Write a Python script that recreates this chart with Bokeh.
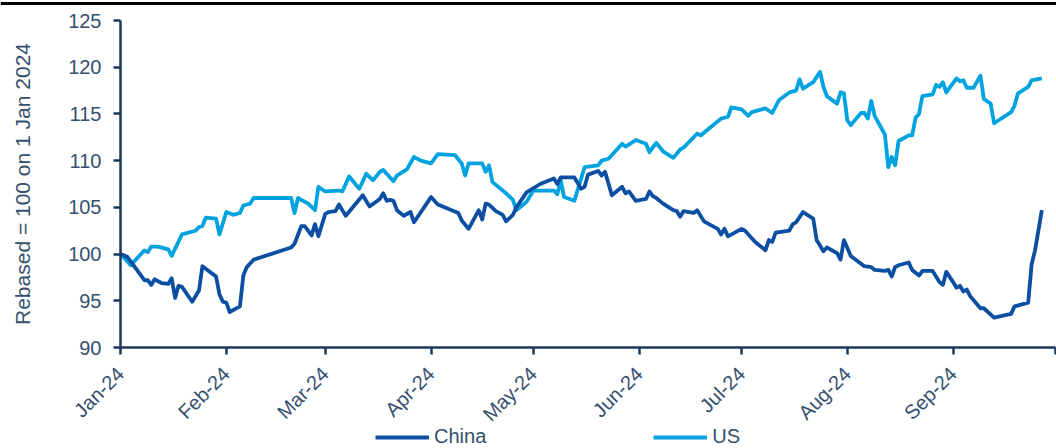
import math
import pandas as pd
from bokeh.plotting import figure
from bokeh.models import (Range1d, FixedTicker, Legend, LegendItem, Label, Span,
                          DatetimeTickFormatter, ColumnDataSource)
from bokeh.embed import file_html
from bokeh.resources import INLINE

# ---------------- data ----------------
base_date = "2024-01-01"

china_days = [0, 2, 4, 7, 8, 9, 10, 12, 14, 15, 16, 17, 18, 21, 23, 24, 28, 29, 30, 31,
              32, 35, 36, 37, 39, 50, 51, 53, 54, 56, 57, 58, 60, 61, 63, 64, 66, 71, 73,
              76, 77, 78, 79, 80, 81, 83, 85, 86, 91, 93, 99, 100, 102, 105, 106, 107,
              108, 110, 112, 113, 115, 116, 119, 123, 127, 128, 129, 133, 135, 136, 137,
              140, 141, 142, 144, 147, 148, 149, 151, 154, 155, 156, 157, 159, 162, 163,
              164, 165, 168, 169, 171, 175, 176, 177, 178, 182, 183, 186, 189, 190, 191,
              192, 196, 197, 198, 200, 203, 204, 206, 207, 210, 211, 212, 214, 218, 220,
              221, 224, 225, 226, 227, 228, 231, 232, 234, 235, 238, 240, 241, 242, 244,
              245, 246, 247, 248, 249, 252, 253, 256, 261, 262, 266, 267, 268, 270]
china_values = [100.0, 99.7, 98.7, 97.2, 97.2, 96.7, 97.3, 96.9, 96.8, 97.4, 95.3, 96.6,
                96.5, 94.9, 96.1, 98.7, 97.6, 95.7, 94.9, 94.8, 93.8, 94.4, 97.7, 98.6,
                99.4, 100.7, 101.1, 103.0, 103.0, 102.0, 103.2, 101.9, 104.3, 104.5,
                104.6, 105.3, 104.1, 106.3, 105.1, 105.9, 106.5, 105.7, 105.8, 105.7,
                104.7, 104.1, 104.5, 103.4, 106.1, 105.3, 104.4, 103.6, 102.7, 104.7,
                103.7, 105.4, 105.3, 104.6, 104.2, 103.5, 104.2, 105.0, 106.6, 107.5,
                108.1, 107.5, 108.2, 108.2, 107.0, 107.2, 108.5, 108.9, 108.4, 108.8,
                106.3, 107.2, 106.5, 106.7, 105.7, 105.9, 106.7, 106.2, 106.0, 105.4,
                104.7, 104.6, 104.0, 104.6, 104.4, 104.7, 103.5, 102.7, 102.1, 102.7,
                101.9, 102.7, 102.5, 101.3, 100.4, 101.5, 101.3, 102.3, 102.5, 103.2,
                103.4, 104.5, 103.8, 101.5, 100.3, 100.7, 100.1, 99.4, 101.5, 99.8,
                98.7, 98.6, 98.3, 98.2, 98.3, 97.6, 98.6, 98.8, 99.1, 98.3, 97.7, 98.2,
                98.2, 97.0, 96.7, 98.1, 97.0, 96.4, 96.6, 96.0, 96.2, 95.5, 94.2, 94.2,
                93.2, 93.6, 94.4, 94.8, 98.9, 100.4, 104.7]

us_days = [0, 3, 7, 8, 9, 11, 14, 15, 18, 22, 23, 24, 25, 28, 29, 31, 33, 35, 36, 38, 39,
           50, 51, 52, 55, 57, 58, 60, 64, 65, 67, 70, 72, 74, 76, 77, 80, 81, 84, 86, 88,
           91, 93, 98, 100, 101, 102, 106, 107, 108, 109, 113, 115, 116, 119, 121, 127,
           128, 129, 130, 133, 136, 140, 141, 143, 147, 148, 151, 154, 155, 157, 159,
           162, 164, 165, 169, 170, 173, 176, 178, 179, 182, 184, 185, 189, 191, 193,
           196, 198, 199, 200, 203, 205, 206, 207, 210, 211, 212, 213, 214, 217, 218,
           219, 220, 221, 224, 225, 226, 227, 228, 231, 232, 233, 234, 235, 238, 239,
           240, 241, 242, 245, 246, 247, 248, 250, 252, 253, 255, 256, 261, 262, 263,
           266, 267, 270]
us_values = [100.0, 98.8, 100.4, 100.2, 100.8, 100.8, 100.5, 99.8, 102.1, 102.5, 102.9,
             103.0, 103.9, 103.8, 102.1, 104.5, 104.2, 104.4, 105.2, 105.4, 106.0, 106.0,
             104.4, 106.0, 105.4, 104.7, 107.2, 106.7, 106.8, 106.7, 108.3, 107.0, 108.6,
             107.9, 108.8, 109.0, 107.8, 108.4, 109.1, 110.4, 110.0, 109.7, 110.7, 110.6,
             109.7, 108.4, 109.7, 109.7, 108.8, 109.5, 107.7, 106.5, 105.8, 104.7, 105.6,
             106.8, 106.8, 106.4, 107.9, 106.1, 105.7, 109.3, 109.5, 110.0, 110.2, 111.8,
             111.5, 112.2, 111.8, 110.9, 111.9, 111.0, 110.3, 111.2, 111.4, 112.9, 112.7,
             113.6, 114.5, 114.7, 115.7, 115.5, 114.8, 115.2, 115.6, 115.1, 116.5, 117.3,
             117.5, 118.7, 117.7, 118.4, 119.5, 117.9, 116.9, 116.1, 117.3, 117.2, 114.3,
             113.8, 115.1, 115.1, 114.5, 116.4, 114.8, 112.8, 109.3, 110.4, 109.5, 112.1,
             112.7, 112.7, 114.6, 115.0, 116.9, 117.1, 118.1, 117.9, 118.4, 117.3, 118.8,
             118.5, 118.6, 117.8, 117.8, 119.1, 116.6, 116.1, 114.0, 115.2, 115.9, 117.2,
             117.9, 118.6, 118.8]

tick_months = ["2024-01-01", "2024-02-01", "2024-03-01", "2024-04-01", "2024-05-01",
               "2024-06-01", "2024-07-01", "2024-08-01", "2024-09-01", "2024-10-01"]
tick_labels = ["Jan-24", "Feb-24", "Mar-24", "Apr-24", "May-24", "Jun-24", "Jul-24",
               "Aug-24", "Sep-24", ""]
y_ticks = [90, 95, 100, 105, 110, 115, 120, 125]
y_label = "Rebased = 100 on 1 Jan 2024"
series_names = ["China", "US"]

# ---------------- styling / layout ----------------
FONT = "Liberation Sans"
TEXT_COL = "#34506E"
AXIS_COL = "#1B3A5C"
CHINA_COL = "#0B4EA2"
US_COL = "#00A3E0"

W, H = 1056, 448
LEFT, TOP = 120, 20          # pixel position of the plotting area's corner
PLOT_W, PLOT_H = 935, 327    # pixel size of the Jan..Oct / 90..125 area
RULE_Y = 3                   # page rule drawn near the top edge

x0 = pd.Timestamp(tick_months[0])
x1 = pd.Timestamp(tick_months[-1])
span_days = (x1 - x0).days
px_day = PLOT_W / span_days
px_unit = PLOT_H / (y_ticks[-1] - y_ticks[0])

x_lo = x0 - pd.Timedelta(days=LEFT / px_day)
x_hi = x1 + pd.Timedelta(days=(W - LEFT - PLOT_W) / px_day)
y_hi = y_ticks[-1] + TOP / px_unit
y_lo = y_ticks[0] - (H - TOP - PLOT_H) / px_unit

def ms(ts):
    return int(pd.Timestamp(ts).value // 10**6)

base = pd.Timestamp(base_date)
china_src = ColumnDataSource(dict(
    x=base + pd.to_timedelta(china_days, unit="D"), y=china_values))
us_src = ColumnDataSource(dict(
    x=base + pd.to_timedelta(us_days, unit="D"), y=us_values))

tick_ms = [ms(m) for m in tick_months]

p = figure(x_axis_type="datetime", frame_width=W, frame_height=H,
           output_backend="svg", toolbar_location=None,
           x_range=Range1d(x_lo, x_hi), y_range=Range1d(y_lo, y_hi),
           min_border_left=0, min_border_right=0, min_border_top=0,
           min_border_bottom=0)
p.outline_line_color = None
p.xgrid.visible = False
p.ygrid.visible = False
p.background_fill_color = "white"
p.border_fill_color = "white"

# thin black rule across the top of the page
p.add_layout(Span(location=y_hi - RULE_Y / px_unit, dimension="width",
                  line_color="black", line_width=3))

r_us = p.line("x", "y", source=us_src, line_width=3.8, line_color=US_COL,
              line_join="round")
r_cn = p.line("x", "y", source=china_src, line_width=3.8, line_color=CHINA_COL,
              line_join="round")

for ax in (p.xaxis[0], p.yaxis[0]):
    ax.axis_line_color = AXIS_COL
    ax.axis_line_width = 2.5
    ax.major_tick_line_color = AXIS_COL
    ax.major_tick_line_width = 2.5
    ax.major_tick_in = 0
    ax.major_tick_out = 7
    ax.minor_tick_line_color = None
    ax.major_label_text_font = FONT
    ax.major_label_text_font_size = "20px"
    ax.major_label_text_color = TEXT_COL

p.xaxis.ticker = FixedTicker(ticks=tick_ms)
p.xaxis.formatter = DatetimeTickFormatter(months="%b-%y", days="%b-%y")
p.xaxis.major_label_overrides = {t: lab for t, lab in zip(tick_ms, tick_labels)}
p.xaxis.major_label_orientation = 0.785398
p.xaxis.major_label_standoff = 16
p.xaxis.fixed_location = y_ticks[0]
p.xaxis.bounds = (tick_ms[0], tick_ms[-1])

p.yaxis.ticker = FixedTicker(ticks=y_ticks)
p.yaxis.bounds = (y_ticks[0], y_ticks[-1])
p.yaxis.major_label_standoff = 12
p.yaxis.fixed_location = tick_ms[0]

# y-axis title, centred on the 90..125 span
p.add_layout(Label(x=ms(x0 - pd.Timedelta(days=(LEFT - 21.5) / px_day)),
                   y=(y_ticks[0] + y_ticks[-1]) / 2, text=y_label,
                   angle=math.pi / 2, text_align="center", text_baseline="middle",
                   text_font=FONT, text_font_size="21px", text_color=TEXT_COL))

legend = Legend(items=[LegendItem(label=series_names[0], renderers=[r_cn]),
                       LegendItem(label=series_names[1], renderers=[r_us])],
                orientation="horizontal", location=(375, 0), spacing=167,
                padding=0, margin=0, glyph_width=54, glyph_height=20,
                label_standoff=5, border_line_color=None, background_fill_alpha=0,
                label_text_font=FONT, label_text_font_size="20px",
                label_text_color=TEXT_COL)
p.add_layout(legend)

open("out.html", "w").write(file_html(p, INLINE))
